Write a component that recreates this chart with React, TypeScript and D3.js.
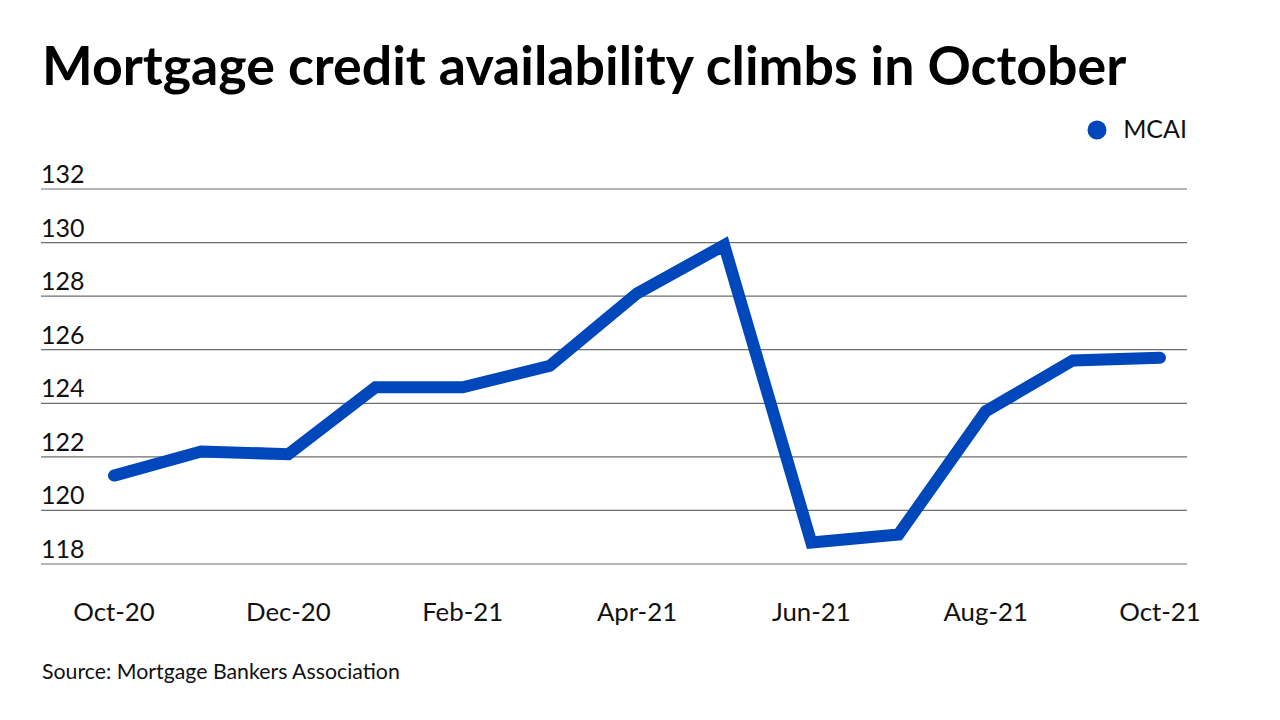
import React, { useEffect, useRef } from "react";
import * as d3 from "d3";

const months = [
  "Oct-20", "Nov-20", "Dec-20", "Jan-21", "Feb-21", "Mar-21", "Apr-21",
  "May-21", "Jun-21", "Jul-21", "Aug-21", "Sep-21", "Oct-21",
];
const mcai = [121.3, 122.2, 122.1, 124.6, 124.6, 125.4, 128.1, 129.9, 118.8, 119.1, 123.7, 125.6, 125.7];
const yTicks = [118, 120, 122, 124, 126, 128, 130, 132];
const xLabels = ["Oct-20", "Dec-20", "Feb-21", "Apr-21", "Jun-21", "Aug-21", "Oct-21"];

const FONT = "Lato, 'Open Sans', sans-serif";
const BLUE = "#0047bb";

const App: React.FC = () => {
  const svgRef = useRef<SVGSVGElement>(null);

  useEffect(() => {
    const svg = d3.select(svgRef.current);
    svg.selectAll("*").remove();

    const width = 1280;
    const height = 720;
    svg.attr("width", width).attr("height", height);

    svg.append("rect").attr("width", width).attr("height", height).attr("fill", "#fff");

    // 标题
    svg.append("text")
      .text("Mortgage credit availability climbs in October")
      .attr("x", 42)
      .attr("y", 85)
      .attr("font-family", FONT)
      .attr("font-weight", 700)
      .attr("font-size", 53.7)
      .attr("fill", "#000");

    const x = d3.scalePoint<string>().domain(months).range([114, 1160]);
    const y = d3.scaleLinear().domain([118, 132]).range([564, 189]);

    // 网格线 + 刻度文字
    const grid = svg.append("g");
    yTicks.forEach((t) => {
      grid.append("line")
        .attr("x1", 41)
        .attr("x2", 1187)
        .attr("y1", y(t))
        .attr("y2", y(t))
        .attr("stroke", "#6e6e6e")
        .attr("stroke-width", 1.2);
      grid.append("text")
        .text(t)
        .attr("x", 41)
        .attr("y", y(t) - 6)
        .attr("font-family", FONT)
        .attr("font-size", 25)
        .attr("fill", "#111");
    });

    xLabels.forEach((m) => {
      svg.append("text")
        .text(m)
        .attr("x", x(m) ?? 0)
        .attr("y", 621)
        .attr("text-anchor", "middle")
        .attr("font-family", FONT)
        .attr("font-size", 25.8)
        .attr("fill", "#111");
    });

    const line = d3
      .line<number>()
      .x((_, i) => x(months[i]) ?? 0)
      .y((d) => y(d));

    svg.append("path")
      .datum(mcai)
      .attr("d", line)
      .attr("fill", "none")
      .attr("stroke", BLUE)
      .attr("stroke-width", 12)
      .attr("stroke-linejoin", "miter")
      .attr("stroke-linecap", "round");

    // 图例
    svg.append("circle").attr("cx", 1097).attr("cy", 130).attr("r", 9.5).attr("fill", BLUE);
    svg.append("text")
      .text("MCAI")
      .attr("x", 1187)
      .attr("y", 138)
      .attr("text-anchor", "end")
      .attr("font-family", FONT)
      .attr("font-size", 25)
      .attr("fill", "#111");

    svg.append("text")
      .text("Source: Mortgage Bankers Association")
      .attr("x", 42)
      .attr("y", 679)
      .attr("font-family", FONT)
      .attr("font-size", 21.3)
      .attr("fill", "#111");
  }, []);

  return (
    <div style={{ position: "absolute", left: 0, top: 0 }}>
      <svg ref={svgRef} style={{ display: "block" }}></svg>
    </div>
  );
};

export default App;
